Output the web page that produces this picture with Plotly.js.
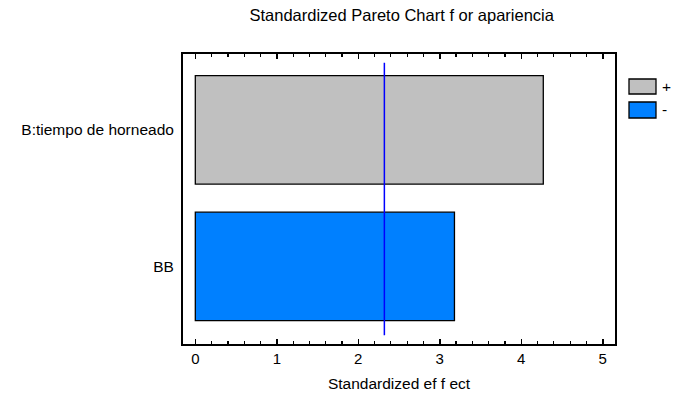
<!DOCTYPE html>
<html>
<head>
<meta charset="utf-8">
<script src="https://cdn.plot.ly/plotly-3.0.1.min.js"></script>
<style>html,body{margin:0;padding:0;background:#fff;}#chart{width:674px;height:402px;}</style>
</head>
<body>
<div id="chart"></div>
<script>
// Data
const categories = ["BB", "B:tiempo de horneado"];
const effects = [3.18, 4.27];
const signs = ["-", "+"];
const criticalValue = 2.32;
const xTicks = [0, 1, 2, 3, 4, 5];
const legendLabels = ["+", "-"];

const colorPos = "#C0C0C0";
const colorNeg = "#0080FF";
const catIdx = categories.map((c, i) => i);

const posY = [], posX = [], negY = [], negX = [];
categories.forEach((c, i) => {
  if (signs[i] === "+") { posY.push(i); posX.push(effects[i]); }
  else { negY.push(i); negX.push(effects[i]); }
});

const font = "Liberation Sans, Arial, sans-serif";
const fs = 15.5;

const traces = [
  { type: "bar", orientation: "h", x: posX, y: posY, name: "+", width: 0.794,
    marker: { color: colorPos, line: { color: "#000", width: 1.3 } }, showlegend: false, hoverinfo: "x+y" },
  { type: "bar", orientation: "h", x: negX, y: negY, name: "-", width: 0.794,
    marker: { color: colorNeg, line: { color: "#000", width: 1.3 } }, showlegend: false, hoverinfo: "x+y" }
];

const shapes = [
  { type: "line", xref: "x", yref: "y", x0: criticalValue, x1: criticalValue, y0: -0.505, y1: 1.492,
    line: { color: "#0000FF", width: 1.5 } },
  // custom legend boxes
  { type: "rect", xref: "paper", yref: "paper", x0: 1.0324, x1: 1.0949, y0: 0.862, y1: 0.9138,
    fillcolor: colorPos, line: { color: "#000", width: 1.3 } },
  { type: "rect", xref: "paper", yref: "paper", x0: 1.0324, x1: 1.0949, y0: 0.7793, y1: 0.8345,
    fillcolor: colorNeg, line: { color: "#000", width: 1.3 } }
];

const annotations = [
  { xref: "paper", yref: "paper", x: 1.104, y: 0.888, xanchor: "left", yanchor: "middle",
    text: legendLabels[0], showarrow: false, font: { family: font, size: fs, color: "#000" } },
  { xref: "paper", yref: "paper", x: 1.104, y: 0.807, xanchor: "left", yanchor: "middle",
    text: legendLabels[1], showarrow: false, font: { family: font, size: fs, color: "#000" } }
];

const layout = {
  width: 674, height: 402,
  margin: { l: 183, r: 59, t: 54, b: 58, pad: 0 },
  paper_bgcolor: "#fff", plot_bgcolor: "#fff",
  font: { family: font, size: fs, color: "#000" },
  title: { text: "Standardized Pareto Chart f or apariencia", x: 0.596, xanchor: "center",
           y: 0.962, yref: "container", yanchor: "middle", font: { family: font, size: 16.5, color: "#000" } },
  barmode: "overlay",
  xaxis: {
    range: [-0.151, 5.15], tickvals: xTicks, ticktext: xTicks.map(String),
    ticks: "inside", ticklen: 5, tickwidth: 1.5, tickcolor: "#000",
    minor: { dtick: 0.2, tick0: 0, ticks: "inside", ticklen: 3, tickwidth: 1.2, tickcolor: "#000" },
    showline: true, linecolor: "#000", linewidth: 2, mirror: "ticks",
    showgrid: false, zeroline: false,
    tickfont: { family: font, size: 15, color: "#000" },
    title: { text: "Standardized ef f ect", standoff: 12, font: { family: font, size: fs, color: "#000" } }
  },
  yaxis: {
    range: [-0.569, 1.556], tickvals: catIdx, ticktext: categories,
    ticks: "", showline: true, linecolor: "#000", linewidth: 2, mirror: true,
    showgrid: false, zeroline: false, ticklabelstandoff: 4,
    tickfont: { family: font, size: fs, color: "#000" }
  },
  shapes: shapes,
  annotations: annotations
};

Plotly.newPlot("chart", traces, layout, { displayModeBar: false, staticPlot: true });
</script>
</body>
</html>
